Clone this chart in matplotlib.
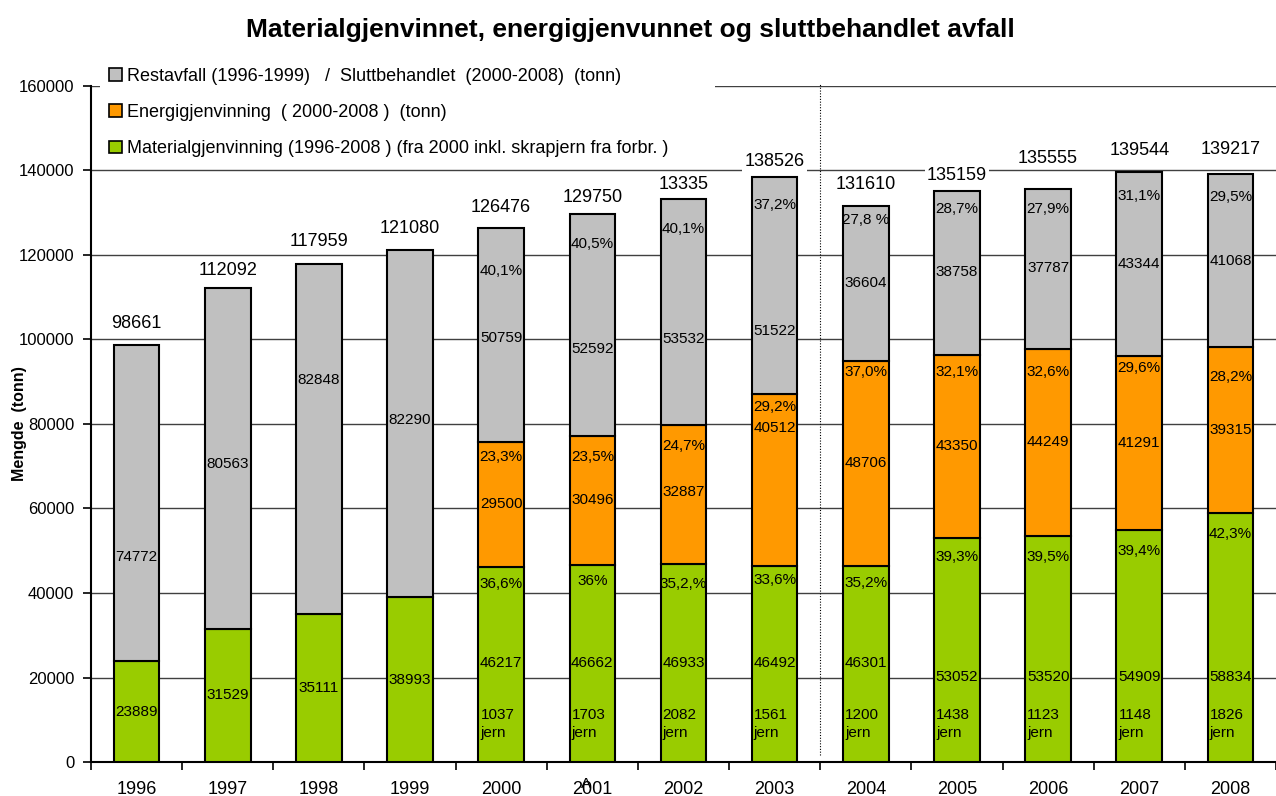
import numpy as np
import matplotlib
matplotlib.use("Agg")
import matplotlib.pyplot as plt
from matplotlib.patches import Patch

plt.rcParams["font.family"] = ["Liberation Sans", "DejaVu Sans"]

#------------------------------------ chart data
years = ["1996", "1997", "1998", "1999", "2000", "2001", "2002",
         "2003", "2004", "2005", "2006", "2007", "2008"]

material = [23889, 31529, 35111, 38993, 46217, 46662, 46933,
            46492, 46301, 53052, 53520, 54909, 58834]
energi = [0, 0, 0, 0, 29500, 30496, 32887,
          40512, 48706, 43350, 44249, 41291, 39315]
rest = [74772, 80563, 82848, 82290, 50759, 52592, 53532,
        51522, 36604, 38758, 37787, 43344, 41068]

total_txt = ["98661", "112092", "117959", "121080", "126476", "129750",
             "13335", "138526", "131610", "135159", "135555", "139544",
             "139217"]

rest_pct = ["40,1%", "40,5%", "40,1%", "37,2%", "27,8 %", "28,7%",
            "27,9%", "31,1%", "29,5%"]
energi_pct = ["23,3%", "23,5%", "24,7%", "29,2%", "37,0%", "32,1%",
              "32,6%", "29,6%", "28,2%"]
mat_pct = ["36,6%", "36%", "35,2,%", "33,6%", "35,2%", "39,3%",
           "39,5%", "39,4%", "42,3%"]
jern = [1037, 1703, 2082, 1561, 1200, 1438, 1123, 1148, 1826]

legend_txt = ["Restavfall (1996-1999)   /  Sluttbehandlet  (2000-2008)  (tonn)",
              "Energigjenvinning  ( 2000-2008 )  (tonn)",
              "Materialgjenvinning (1996-2008 ) (fra 2000 inkl. skrapjern fra forbr. )"]

#------------------------------------ label nudges (pixels, layout only)
tot_up = [22, 18, 22, 21, 20, 16, 14, 15, 21, 15, 31, 22, 24]
rest_val_dn = [54, 5, -59, -3, 3, 24, 27, 45, 0, -1, -1, 0, 0]
rest_pct_dn = [43, 30, 30, 28, 14, 18, 20, 24, 23]
en_val_dn = [0, 0, -2, -52, 0, 0, 0, 0, 0]
en_pct_dn = [15, 21, 21, 13, 11, 17, 23, 12, 30]
mat_pct_dn = [17, 16, 20, 14, 17, 19, 21, 21, 21]
mat_val_up = [99, 99, 99, 99, 99, 85, 85, 85, 85]

GREY = "#C0C0C0"
ORANGE = "#FF9900"
GREEN = "#99CC00"

x = np.arange(len(years))
mat = np.array(material, dtype=float)
ene = np.array(energi, dtype=float)
res = np.array(rest, dtype=float)
e0 = 4                                   # first year with energi

fig = plt.figure(figsize=(12.76, 7.96), dpi=100)
ax = fig.add_axes([0.0713, 0.0427, 0.9287, 0.8493])

w = 0.5
kw = dict(width=w, edgecolor="black", linewidth=1.5, zorder=3)
ax.bar(x, mat, color=GREEN, **kw)
ax.bar(x[e0:], ene[e0:], bottom=mat[e0:], color=ORANGE, **kw)
ax.bar(x, res, bottom=mat + ene, color=GREY, **kw)

ax.set_xlim(-0.5, 12.42)
ax.set_ylim(0, 160000)
ax.set_yticks(np.arange(0, 160001, 20000))
ax.set_yticklabels([str(v) for v in range(0, 160001, 20000)], fontsize=12)
ax.set_xticks(x)
ax.set_xticklabels(years, fontsize=13)
ax.set_xticks(np.arange(-0.5, 12.6, 1.0), minor=True)
ax.tick_params(axis="x", which="major", length=0, pad=14)
ax.tick_params(axis="x", which="minor", length=6, width=1.2,
               direction="out")
ax.tick_params(axis="y", length=6, width=1.2, direction="out", pad=6)

ax.grid(axis="y", color="#404040", linewidth=1.0)
ax.set_axisbelow(True)
for s in ("top", "right"):
    ax.spines[s].set_visible(False)
for s in ("left", "bottom"):
    ax.spines[s].set_linewidth(1.5)

ax.set_ylabel("Mengde  (tonn)", fontsize=11.5, fontweight="bold")
ax.yaxis.set_label_coords(-0.054, 0.5)
fig.text(0.494, 0.962, "Materialgjenvinnet, energigjenvunnet og sluttbehandlet avfall",
         ha="center", va="center", fontsize=19, fontweight="bold")

ax.axvline(7.5, ymin=0.01, ymax=1.005, color="black", linewidth=0.8,
           linestyle=(0, (1, 1.5)), clip_on=False, zorder=4)

#------------------------------------ labels
top = mat + ene + res
lab = dict(textcoords="offset pixels", ha="center", va="center",
           zorder=5)

for i in range(len(years)):
    ax.annotate(total_txt[i], (x[i], top[i]), xytext=(0, tot_up[i]),
                fontsize=13, bbox=dict(fc="white", ec="none", pad=1.5),
                **lab)
    ax.annotate(str(rest[i]), (x[i], mat[i] + ene[i] + res[i] / 2),
                xytext=(0, -rest_val_dn[i]), fontsize=11, **lab)
    if i < e0:
        ax.annotate(str(material[i]), (x[i], mat[i] / 2),
                    xytext=(0, 0), fontsize=11, **lab)

for k, i in enumerate(range(e0, len(years))):
    ax.annotate(rest_pct[k], (x[i], top[i]),
                xytext=(0, -rest_pct_dn[k]), fontsize=11, **lab)
    ax.annotate(str(energi[i]), (x[i], mat[i] + ene[i] / 2),
                xytext=(0, -en_val_dn[k]), fontsize=11, **lab)
    ax.annotate(energi_pct[k], (x[i], mat[i] + ene[i]),
                xytext=(0, -en_pct_dn[k]), fontsize=11, **lab)
    ax.annotate(mat_pct[k], (x[i], mat[i]),
                xytext=(0, -mat_pct_dn[k]), fontsize=11, **lab)
    ax.annotate(str(material[i]), (x[i], 0),
                xytext=(0, mat_val_up[k]), fontsize=11, **lab)
    ax.annotate("%d\njern" % jern[k], (x[i] - w / 2, 0),
                xytext=(2, 38), fontsize=11, linespacing=1.45,
                textcoords="offset pixels", ha="left", va="center",
                zorder=5)

# stray glyph over the 2001 tick label
ax.annotate("A", (x[5], 0), xytext=(-6, -22), textcoords="offset pixels",
            ha="center", va="center", fontsize=11)

#------------------------------------ legend
handles = [Patch(facecolor=c, edgecolor="black", linewidth=1.2)
           for c in (GREY, ORANGE, GREEN)]
leg = ax.legend(handles, legend_txt, loc="upper left",
                bbox_to_anchor=(0.008, 0.88, 0.519, 0.16), mode="expand",
                fontsize=13, frameon=True, fancybox=False,
                handlelength=0.7, handleheight=0.7, handletextpad=0.25,
                labelspacing=1.06, borderpad=0.5, borderaxespad=0.0)
leg.get_frame().set_facecolor("white")
leg.get_frame().set_edgecolor("none")
leg.get_frame().set_alpha(1.0)
leg.set_zorder(6)

fig.savefig("out.png", dpi=100)
